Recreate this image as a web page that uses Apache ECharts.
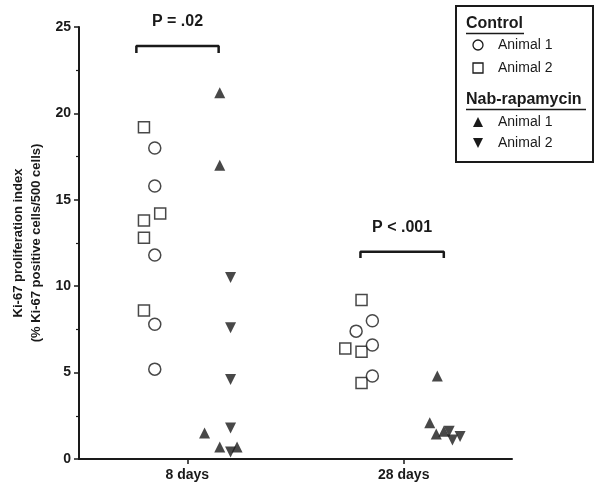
<!DOCTYPE html>
<html><head><meta charset="utf-8">
<script src="https://cdn.jsdelivr.net/npm/echarts@6/dist/echarts.min.js"></script>
<style>html,body{margin:0;padding:0;background:#fff}#c{width:600px;height:487px}</style>
</head><body><div id="c"></div>
<script>
// ---- data ----
const xTickPos = [1, 3];
const xTickLabels = ['8 days', '28 days'];
const yTicks = [0, 5, 10, 15, 20, 25];
const ctrlAnimal1 = [[0.70,18.0],[0.70,15.8],[0.70,11.8],[0.70,7.8],[0.70,5.2],[2.71,8.0],[2.56,7.4],[2.71,6.6],[2.71,4.8]];
const ctrlAnimal2 = [[0.60,19.2],[0.60,13.8],[0.75,14.2],[0.60,12.8],[0.60,8.6],[2.61,9.2],[2.46,6.4],[2.61,6.2],[2.61,4.4]];
const nabAnimal1 = [[1.30,21.2],[1.30,17.0],[1.16,1.5],[1.30,0.7],[1.46,0.7],[3.31,4.8],[3.24,2.1],[3.30,1.45],[3.37,1.6]];
const nabAnimal2 = [[1.40,10.5],[1.40,7.6],[1.40,4.6],[1.40,1.8],[1.40,0.4],[3.42,1.6],[3.45,1.1],[3.52,1.3]];
const brackets = [
  {x1: 0.53, x2: 1.29, top: 23.9, bottom: 23.5, label: 'P = .02', labelY: 25.3},
  {x1: 2.60, x2: 3.37, top: 12.0, bottom: 11.63, label: 'P < .001', labelY: 13.4}
];
const yName = 'Ki-67 proliferation index\n(% Ki-67 positive cells/500 cells)';

const FONT = '"Liberation Sans", Arial, Helvetica, sans-serif';
const INK = '#1a1a1a';
const chart = echarts.init(document.getElementById('c'), null, {renderer: 'canvas'});

const hollow = {color: '#fff', borderColor: INK, borderWidth: 1.5};
const series = [
  {name: 'c1', type: 'scatter', data: ctrlAnimal2, symbol: 'rect', symbolSize: 11, itemStyle: hollow, z: 3},
  {name: 'c2', type: 'scatter', data: ctrlAnimal1, symbol: 'circle', symbolSize: 12, itemStyle: hollow, z: 4},
  {name: 'n1', type: 'scatter', data: nabAnimal1, symbol: 'triangle', symbolSize: 11, itemStyle: {color: INK}, z: 5},
  {name: 'n2', type: 'scatter', data: nabAnimal2, symbol: 'triangle', symbolRotate: 180, symbolSize: 11, itemStyle: {color: INK}, z: 5}
];
brackets.forEach(b => {
  series.push({type: 'line', data: [[b.x1,b.bottom],[b.x1,b.top],[b.x2,b.top],[b.x2,b.bottom]],
    symbol: 'none', lineStyle: {color: INK, width: 2.5}, clip: false, silent: true, z: 2});
});

chart.setOption({
  animation: false,
  backgroundColor: '#fff',
  grid: {left: 79, right: 88, top: 27, bottom: 28, outerBoundsMode: 'none', containLabel: false},
  xAxis: {
    type: 'value', min: 0, max: 4, interval: 1,
    axisLine: {lineStyle: {color: INK, width: 2}},
    axisTick: {show: true, customValues: xTickPos, length: 5, lineStyle: {color: INK, width: 1.5}},
    axisLabel: {customValues: xTickPos, formatter: v => xTickLabels[xTickPos.indexOf(v)] || '',
      color: INK, fontFamily: FONT, fontWeight: 'bold', fontSize: 14, margin: 9},
    splitLine: {show: false}
  },
  yAxis: {
    type: 'value', min: 0, max: 25, interval: 5,
    name: yName, nameLocation: 'middle', nameGap: 34, nameRotate: 90, nameMoveOverlap: false,
    nameTextStyle: {color: INK, fontFamily: FONT, fontWeight: 'bold', fontSize: 13, lineHeight: 18},
    axisLine: {show: true, lineStyle: {color: INK, width: 2}},
    axisTick: {show: true, length: 5, lineStyle: {color: INK, width: 1.5}},
    minorTick: {show: true, splitNumber: 2, length: 3, lineStyle: {color: INK, width: 1.2}},
    axisLabel: {color: INK, fontFamily: FONT, fontWeight: 'bold', fontSize: 14, margin: 8},
    splitLine: {show: false}
  },
  series: series
});

// annotations and legend
const g = [];
brackets.forEach(b => {
  const p = chart.convertToPixel({gridIndex: 0}, [(b.x1 + b.x2) / 2, b.labelY]);
  g.push({type: 'text', x: p[0], y: p[1], style: {text: b.label, fill: INK, font: 'bold 16px ' + FONT, align: 'center', verticalAlign: 'middle'}});
});
const lx = 456, ly = 6, lw = 137, lh = 156;
g.push({type: 'rect', shape: {x: lx, y: ly, width: lw, height: lh}, style: {fill: '#fff', stroke: INK, lineWidth: 2}});
const header = (txt, y) => {
  g.push({type: 'text', x: lx + 10, y: y, style: {text: txt, fill: INK, font: 'bold 16px ' + FONT, verticalAlign: 'middle'}});
};
header('Control', 24);
header('Nab-rapamycin', 100);
// underlines
g.push({type: 'line', shape: {x1: lx + 10, y1: 33.5, x2: lx + 10 + 58, y2: 33.5}, style: {stroke: INK, lineWidth: 1.5}});
g.push({type: 'line', shape: {x1: lx + 10, y1: 109.5, x2: lx + 10 + 120, y2: 109.5}, style: {stroke: INK, lineWidth: 1.5}});
const sx = 478, tx = 498;
const item = (y, txt) => g.push({type: 'text', x: tx, y: y, style: {text: txt, fill: INK, font: '14px ' + FONT, verticalAlign: 'middle'}});
g.push({type: 'circle', shape: {cx: sx, cy: 45, r: 5}, style: {fill: '#fff', stroke: INK, lineWidth: 1.3}});
item(45, 'Animal 1');
g.push({type: 'rect', shape: {x: sx - 5, y: 63, width: 10, height: 10}, style: {fill: '#fff', stroke: INK, lineWidth: 1.3}});
item(68, 'Animal 2');
g.push({type: 'polygon', shape: {points: [[sx, 117], [sx + 5, 127], [sx - 5, 127]]}, style: {fill: INK}});
item(122, 'Animal 1');
g.push({type: 'polygon', shape: {points: [[sx - 5, 138], [sx + 5, 138], [sx, 148]]}, style: {fill: INK}});
item(143, 'Animal 2');
chart.setOption({graphic: g});
</script></body></html>
